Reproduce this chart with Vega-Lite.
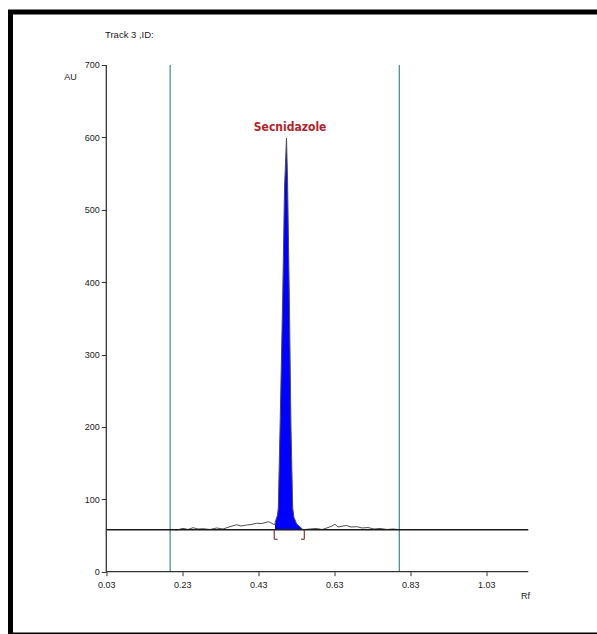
{
  "$schema": "https://vega.github.io/schema/vega-lite/v6.json",
  "autosize": {"type": "none"},
  "padding": {"left": 10.5, "top": 12, "right": -5, "bottom": -1},
  "width": 591.5,
  "height": 623,
  "background": "white",
  "config": {"view": {"stroke": "black", "strokeWidth": 5}},
  "title": {"text": "Track 3 ,ID:", "anchor": "start", "frame": "group", "orient": "top", "offset": 0, "dx": 94.5, "dy": 27.5, "fontSize": 9.5, "fontWeight": "normal", "font": "Liberation Sans", "color": "#1a1a1a"},
  "datasets": {
    "trace": [
      {"x": 0.2021, "y": 58.6, "seg": "noise"},
      {"x": 0.2160, "y": 57.6, "seg": "noise"},
      {"x": 0.2318, "y": 59.9, "seg": "noise"},
      {"x": 0.2450, "y": 58.3, "seg": "noise"},
      {"x": 0.2582, "y": 60.8, "seg": "noise"},
      {"x": 0.2713, "y": 59.0, "seg": "noise"},
      {"x": 0.2845, "y": 59.4, "seg": "noise"},
      {"x": 0.3029, "y": 58.3, "seg": "noise"},
      {"x": 0.3205, "y": 60.4, "seg": "noise"},
      {"x": 0.3371, "y": 59.0, "seg": "noise"},
      {"x": 0.3555, "y": 62.2, "seg": "noise"},
      {"x": 0.3732, "y": 64.9, "seg": "noise"},
      {"x": 0.3845, "y": 63.1, "seg": "noise"},
      {"x": 0.3995, "y": 64.5, "seg": "noise"},
      {"x": 0.4108, "y": 65.2, "seg": "noise"},
      {"x": 0.4258, "y": 66.9, "seg": "noise"},
      {"x": 0.4397, "y": 66.6, "seg": "noise"},
      {"x": 0.4563, "y": 69.1, "seg": "noise"},
      {"x": 0.4653, "y": 66.9, "seg": "noise"},
      {"x": 0.4713, "y": 65.2, "seg": "noise"},
      {"x": 0.4740, "y": 66, "seg": "peak"},
      {"x": 0.4766, "y": 72, "seg": "peak"},
      {"x": 0.4805, "y": 78, "seg": "peak"},
      {"x": 0.4826, "y": 88, "seg": "peak"},
      {"x": 0.4871, "y": 196, "seg": "peak"},
      {"x": 0.4942, "y": 380, "seg": "peak"},
      {"x": 0.4990, "y": 530, "seg": "peak"},
      {"x": 0.5042, "y": 599, "seg": "peak"},
      {"x": 0.5070, "y": 540, "seg": "peak"},
      {"x": 0.5116, "y": 380, "seg": "peak"},
      {"x": 0.5161, "y": 196, "seg": "peak"},
      {"x": 0.5205, "y": 88, "seg": "peak"},
      {"x": 0.5239, "y": 75, "seg": "peak"},
      {"x": 0.5310, "y": 66, "seg": "peak"},
      {"x": 0.5397, "y": 62, "seg": "peak"},
      {"x": 0.5476, "y": 58, "seg": "peak"},
      {"x": 0.5660, "y": 59.0, "seg": "noise"},
      {"x": 0.5824, "y": 59.7, "seg": "noise"},
      {"x": 0.5980, "y": 58.3, "seg": "noise"},
      {"x": 0.6134, "y": 61.0, "seg": "noise"},
      {"x": 0.6240, "y": 63.1, "seg": "noise"},
      {"x": 0.6318, "y": 65.5, "seg": "noise"},
      {"x": 0.6397, "y": 61.7, "seg": "noise"},
      {"x": 0.6529, "y": 63.1, "seg": "noise"},
      {"x": 0.6626, "y": 63.8, "seg": "noise"},
      {"x": 0.6740, "y": 61.7, "seg": "noise"},
      {"x": 0.6890, "y": 62.2, "seg": "noise"},
      {"x": 0.7029, "y": 60.4, "seg": "noise"},
      {"x": 0.7187, "y": 61.0, "seg": "noise"},
      {"x": 0.7345, "y": 59.0, "seg": "noise"},
      {"x": 0.7503, "y": 59.7, "seg": "noise"},
      {"x": 0.7690, "y": 58.3, "seg": "noise"},
      {"x": 0.7845, "y": 59.0, "seg": "noise"},
      {"x": 0.7979, "y": 58.3, "seg": "noise"}
    ],
    "markers": [
      {"x": 0.198, "y": 0, "y2": 700},
      {"x": 0.801, "y": 0, "y2": 700}
    ],
    "axislines": [
      {"x": 0.03, "x2": 1.1405, "y": 0, "y2": 0},
      {"x": 0.03, "x2": 0.03, "y": 0, "y2": 700}
    ],
    "baseline": [
      {"x": 0.03, "x2": 1.1405, "y": 58, "y2": 58}
    ],
    "brackets": [
      {"x": 0.4721, "x2": 0.4721, "y": 58, "y2": 44.8},
      {"x": 0.4721, "x2": 0.4810, "y": 44.8, "y2": 44.8},
      {"x": 0.5511, "x2": 0.5511, "y": 58, "y2": 44.8},
      {"x": 0.5424, "x2": 0.5511, "y": 44.8, "y2": 44.8}
    ],
    "labels": [
      {"label": "Secnidazole", "x": 0.5137, "y": 614.6}
    ]
  },
  "layer": [
    {
      "data": {"name": "markers"},
      "mark": {"type": "rule", "color": "#3b8686", "strokeWidth": 1.2},
      "encoding": {
        "x": {
          "field": "x", "type": "quantitative",
          "scale": {"domain": [-0.22211, 1.33447], "nice": false, "zero": false},
          "axis": {
            "orient": "bottom", "offset": -63.3,
            "values": [0.03, 0.23, 0.43, 0.63, 0.83, 1.03],
            "format": ".2f",
            "domain": false, "grid": false,
            "tickSize": 4, "tickColor": "#333", "tickWidth": 1,
            "labelFont": "Liberation Sans", "labelFontSize": 9, "labelColor": "#1a1a1a", "labelPadding": 5,
            "labelFlush": false,
            "title": "Rf", "titleX": 514.5, "titleY": 23.3, "titleAlign": "center", "titleBaseline": "middle",
            "titleFont": "Liberation Sans", "titleFontSize": 9, "titleFontWeight": "normal", "titleColor": "#1a1a1a"
          }
        },
        "y": {
          "field": "y", "type": "quantitative",
          "scale": {"domain": [-87.43, 773.2], "nice": false, "zero": false},
          "axis": {
            "orient": "left", "offset": -95.8,
            "values": [0, 100, 200, 300, 400, 500, 600, 700],
            "domain": false, "grid": false,
            "tickSize": 5, "tickColor": "#333", "tickWidth": 1,
            "labelFont": "Liberation Sans", "labelFontSize": 9, "labelColor": "#1a1a1a", "labelPadding": 2,
            "labelFlush": false,
            "title": "AU", "titleX": -36.3, "titleY": 64, "titleAngle": 0, "titleAlign": "center", "titleBaseline": "middle",
            "titleFont": "Liberation Sans", "titleFontSize": 9, "titleFontWeight": "normal", "titleColor": "#1a1a1a"
          }
        },
        "y2": {"field": "y2"}
      }
    },
    {
      "data": {"name": "axislines"},
      "mark": {"type": "rule", "color": "#333", "strokeWidth": 1.3},
      "encoding": {
        "x": {"field": "x", "type": "quantitative"},
        "x2": {"field": "x2"},
        "y": {"field": "y", "type": "quantitative"},
        "y2": {"field": "y2"}
      }
    },
    {
      "data": {"name": "trace"},
      "transform": [{"filter": "datum.seg === 'peak'"}],
      "mark": {"type": "area", "color": "#0000ff", "opacity": 1},
      "encoding": {
        "x": {"field": "x", "type": "quantitative"},
        "y": {"field": "y", "type": "quantitative"},
        "y2": {"datum": 58}
      }
    },
    {
      "data": {"name": "trace"},
      "mark": {"type": "line", "color": "#4d4d4d", "strokeWidth": 1},
      "encoding": {
        "x": {"field": "x", "type": "quantitative"},
        "y": {"field": "y", "type": "quantitative"}
      }
    },
    {
      "data": {"name": "baseline"},
      "mark": {"type": "rule", "color": "#1a1a1a", "strokeWidth": 1.4},
      "encoding": {
        "x": {"field": "x", "type": "quantitative"},
        "x2": {"field": "x2"},
        "y": {"field": "y", "type": "quantitative"},
        "y2": {"field": "y2"}
      }
    },
    {
      "data": {"name": "brackets"},
      "mark": {"type": "rule", "color": "#8c3b2b", "strokeWidth": 1.2},
      "encoding": {
        "x": {"field": "x", "type": "quantitative"},
        "x2": {"field": "x2"},
        "y": {"field": "y", "type": "quantitative"},
        "y2": {"field": "y2"}
      }
    },
    {
      "data": {"name": "labels"},
      "mark": {"type": "text", "color": "#b0242a", "font": "Liberation Sans Narrow, DejaVu Sans Condensed, sans-serif", "fontWeight": "bold", "fontSize": 12, "align": "center", "baseline": "middle"},
      "encoding": {
        "x": {"field": "x", "type": "quantitative"},
        "y": {"field": "y", "type": "quantitative"},
        "text": {"field": "label"}
      }
    }
  ]
}
